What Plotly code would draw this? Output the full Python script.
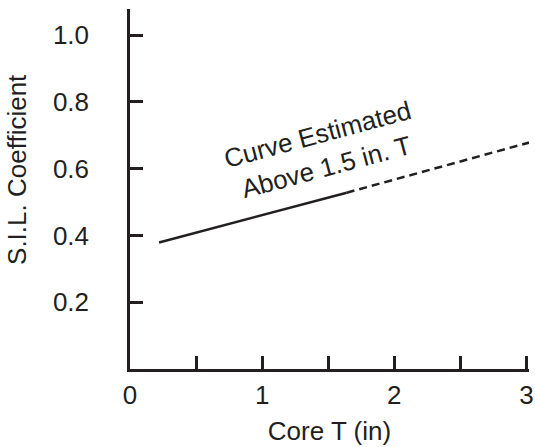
import plotly.graph_objects as go

# Data
solid_x = [0.22, 1.64]
solid_y = [0.379, 0.528]
dash_x = [1.64, 3.02]
dash_y = [0.528, 0.678]

x_tickvals = [0, 0.5, 1, 1.5, 2, 2.5, 3]
x_ticktext = ["0", "", "1", "", "2", "", "3"]
y_tickvals = [0.2, 0.4, 0.6, 0.8, 1.0]
y_ticktext = ["0.2", "0.4", "0.6", "0.8", "1.0"]

ink = "#231f20"
font = "Liberation Sans, Arial, Helvetica, sans-serif"

fig = go.Figure()
fig.add_trace(go.Scatter(x=solid_x, y=solid_y, mode="lines",
                         line=dict(color=ink, width=2.5), showlegend=False, cliponaxis=False))
fig.add_trace(go.Scatter(x=dash_x, y=dash_y, mode="lines",
                         line=dict(color=ink, width=2.5, dash="8px,5px"), showlegend=False, cliponaxis=False))

fig.add_annotation(x=1.45, y=0.652, xref="x", yref="y",
                   text="Curve Estimated<br>Above 1.5 in. T", showarrow=False,
                   textangle=-15, align="center",
                   font=dict(family=font, size=26, color=ink))

# y-axis title (placed as annotation to match the reference's vertical offset)
fig.add_annotation(x=0, y=0.596, xref="paper", yref="y", xshift=-113,
                   text="S.I.L. Coefficient", showarrow=False, textangle=-90,
                   xanchor="center", yanchor="middle",
                   font=dict(family=font, size=26, color=ink))

fig.update_layout(
    width=535, height=447,
    margin=dict(l=130, r=6, t=9, b=78),
    paper_bgcolor="white", plot_bgcolor="white",
    font=dict(family=font, size=26, color=ink),
    xaxis=dict(range=[0, 3.02], tickvals=x_tickvals, ticktext=x_ticktext,
               ticks="inside", ticklen=13, tickwidth=2.5, tickcolor=ink,
               showline=True, linewidth=2.5, linecolor=ink, showgrid=False, zeroline=False,
               automargin=False,
               title=dict(text="Core T (in)", standoff=13, font=dict(size=26)),
               ticklabelstandoff=1),
    yaxis=dict(range=[0, 1.078], tickvals=y_tickvals, ticktext=y_ticktext,
               ticks="inside", ticklen=13, tickwidth=2.5, tickcolor=ink,
               showline=True, linewidth=2.5, linecolor=ink, showgrid=False, zeroline=False,
               automargin=False,
               ticklabelstandoff=33),
)

fig.write_html("out.html", config={"displayModeBar": False},
               post_script="document.body.style.margin='0';document.body.style.overflow='hidden';")
